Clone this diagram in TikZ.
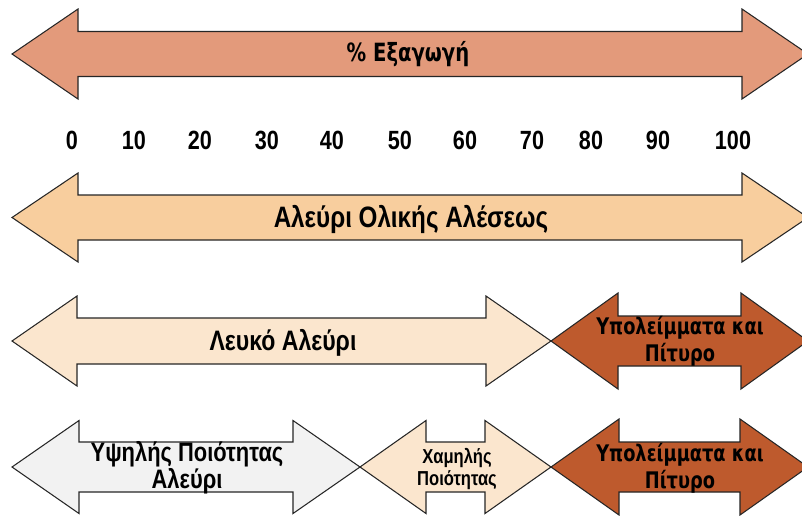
\documentclass[tikz,border=0pt]{standalone}
\usepackage{fontspec}
\usepackage{xcolor}
\usepackage{tikz}
\usetikzlibrary{calc}
\newfontfamily\narrowfont[FakeStretch=0.82]{Liberation Sans}
\newfontfamily\widefont[FakeStretch=0.78]{DejaVu Sans}
\definecolor{Salmon}{HTML}{E39A7B}
\definecolor{Wheat}{HTML}{F8CE9E}
\definecolor{Cream}{HTML}{FBE6CE}
\definecolor{Pale}{HTML}{F2F2F2}
\definecolor{Bran}{HTML}{BE5A2D}
\definecolor{Outline}{HTML}{262626}

% double-headed block arrow: fill, left tip, right tip, centre y, head length, head half, shaft half
\newcommand{\grainarrow}[7]{%
  \draw[arrowline,fill=#1] (#2,#4) -- (#2+#5,#4-#6) -- (#2+#5,#4-#7) -- (#3-#5,#4-#7)
    -- (#3-#5,#4-#6) -- (#3,#4) -- (#3-#5,#4+#6) -- (#3-#5,#4+#7) -- (#2+#5,#4+#7)
    -- (#2+#5,#4+#6) -- cycle;}

\begin{document}
\begin{tikzpicture}[x=0.02cm,y=-0.02cm,
    arrowline/.style={line width=0.6pt,draw=Outline,line join=miter},
    tick/.style={font=\narrowfont\bfseries\fontsize{15}{17}\selectfont},
    narrowlabel/.style 2 args={align=center,font=\narrowfont\bfseries\fontsize{#1}{#2}\selectfont},
    widelabel/.style 2 args={align=center,font=\widefont\bfseries\fontsize{#1}{#2}\selectfont}]
  \clip (0,0) rectangle (802,515);
  \fill[white] (0,0) rectangle (802,515);

  % extraction rate
  \grainarrow{Salmon}{12}{808}{54}{66}{45}{22.5}
  \node[widelabel={14.3}{16}] (pct) at (408,54) {\% Εξαγωγή};

  % scale
  \foreach \v/\x in {0/72,10/134,20/200,30/267,40/332,50/400,60/465,70/532,80/591,90/658,100/733}
    \node[tick] (n\v) at (\x,140) {\v};

  % whole meal
  \grainarrow{Wheat}{12}{808}{217.5}{66}{44.5}{22.5}
  \node[narrowlabel={16.8}{18}] (whole) at (411,219) {Αλεύρι Ολικής Αλέσεως};

  % white flour and bran
  \grainarrow{Cream}{12}{551}{341}{65}{45}{23}
  \grainarrow{Bran}{551}{808}{341}{67}{48}{25}
  \node[narrowlabel={16}{17}] (white) at (283,343) {Λευκό Αλεύρι};
  \node[widelabel={13}{15.5}] (bran1) at (680,341) {Υπολείμματα και\\Πίτυρο};

  % quality split
  \grainarrow{Pale}{12}{360}{467}{67}{46.5}{25}
  \grainarrow{Cream}{360}{551}{467}{66}{46.5}{25}
  \grainarrow{Bran}{551}{808}{467}{68}{48}{25}
  \node[narrowlabel={15.2}{15.5}] (high) at (187,468) {Υψηλής Ποιότητας\\Αλεύρι};
  \node[narrowlabel={11.5}{13}] (low) at (457,469) {Χαμηλής\\Ποιότητας};
  \node[widelabel={13}{15.5}] (bran2) at (680,468) {Υπολείμματα και\\Πίτυρο};
\end{tikzpicture}
\end{document}
